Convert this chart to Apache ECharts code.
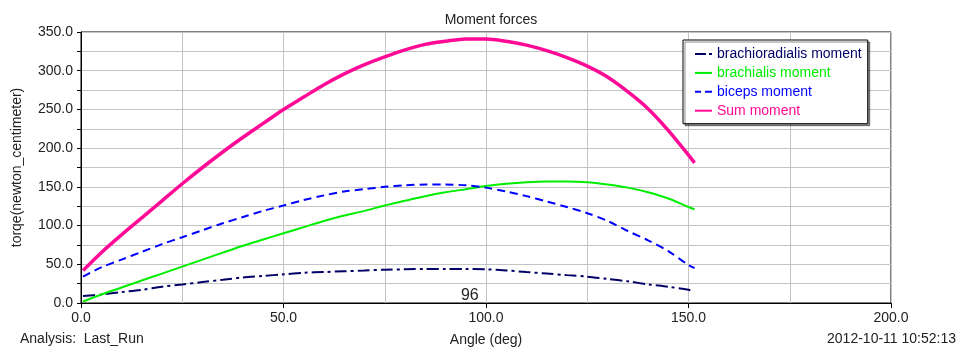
<!DOCTYPE html>
<html>
<head>
<meta charset="utf-8">
<script src="https://cdn.jsdelivr.net/npm/echarts@6/dist/echarts.min.js"></script>
<style>
html,body{margin:0;padding:0;background:#fff;}
#c{width:959px;height:349px;}
</style>
</head>
<body>
<div id="c"></div>
<script>
var angles = [0.5,5,10,15,20,25,30,35,40,45,50,55,60,65,70,75,80,85,90,95,100,105,110,115,120,125,130,135,140,145,150,151.5];
var brachioradialis = [9,11,14,17,21,24,27,30,33,35,37,39,40,41,42,43,43.5,44,44,44,43.5,42,40,38,36,34,31,28,24,21,17,15];
var brachialis = [2,11,20,29,38,47,56,65,74,82,90,98,106,113,119,126,132,138,143,147,151,154,156,157,157,156,153,149,143,135,124,121];
var biceps = [34,46,56,66,76,85,94,103,111,119,126,133,139,144,147,150,152,153,153,152,149,144,138,131,124,116,106,93,81,67,49,45];
var sumMoment = [42,65,88,110,132,154,175,195,214,232,250,266,282,296,308,318,327,334,338,341,341,338,333,326,317,306,292,273,251,223,191,181];
var seriesNames = ['brachioradialis moment','brachialis moment','biceps moment','Sum moment'];
var xTicks = [0,50,100,150,200];
var yTicks = [0,50,100,150,200,250,300,350];
var markerLabel = '96';

function pairs(vals){ return angles.map(function(a,i){ return [a, vals[i]]; }); }

var colors = ['#000066','#00ee00','#0000ff','#ff0a96'];
var icons = [
  'path://M0,0h11v2h-11z M14,0h3v2h-3z',
  'path://M0,0h17v2h-17z',
  'path://M0,0h6v2h-6z M10,0h7v2h-7z',
  'path://M0,0h17v2h-17z'
];
var font = 'Liberation Sans, Arial, sans-serif';

var chart = echarts.init(document.getElementById('c'), null, {renderer:'canvas'});
chart.setOption({
  animation:false,
  backgroundColor:'#fff',
  title:{text:'Moment forces', left:486, top:8, textAlign:'center',
    textStyle:{fontFamily:font, fontSize:14, fontWeight:'normal', color:'#222'}},
  legend:{
    orient:'vertical', left:683, top:40,
    padding:[7,6,6,12], itemGap:4.9, itemWidth:17, itemHeight:14,
    backgroundColor:'#fff', borderColor:'#000', borderWidth:1,
    shadowColor:'rgba(0,0,0,0.45)', shadowOffsetX:2, shadowOffsetY:2, shadowBlur:0,
    textStyle:{fontFamily:font, fontSize:14, padding:[0,0,0,0]},
    data:seriesNames.map(function(n,i){ return {name:n, icon:icons[i], textStyle:{color:colors[i]}}; })
  },
  grid:{left:81, right:68, top:32, bottom:46, show:true, borderColor:'#000', borderWidth:1, containLabel:false},
  xAxis:{
    type:'value', min:0, max:200, interval:50,
    axisLine:{show:true, lineStyle:{color:'#000', width:1}},
    axisTick:{show:true, length:5, lineStyle:{color:'#000'}},
    minorTick:{show:false, splitNumber:2},
    splitLine:{show:true, lineStyle:{color:'#c4c4c4', width:1}},
    minorSplitLine:{show:true, lineStyle:{color:'#c4c4c4', width:1}},
    axisLabel:{margin:8, fontFamily:font, fontSize:14, color:'#222',
      formatter:function(v){ return xTicks.indexOf(v)>=0 ? v.toFixed(1) : ''; }}
  },
  yAxis:{
    type:'value', min:0, max:350, interval:50,
    name:'torqe(newton_centimeter)', nameLocation:'middle', nameGap:57,
    nameTextStyle:{fontFamily:font, fontSize:14, color:'#222'},
    axisLine:{show:true, lineStyle:{color:'#000', width:1}},
    axisTick:{show:true, length:4, lineStyle:{color:'#000'}},
    minorTick:{show:true, splitNumber:2, length:4, lineStyle:{color:'#000'}},
    splitLine:{show:true, lineStyle:{color:'#c4c4c4', width:1}},
    minorSplitLine:{show:true, lineStyle:{color:'#c4c4c4', width:1}},
    axisLabel:{margin:8, fontFamily:font, fontSize:14, color:'#222',
      formatter:function(v){ return yTicks.indexOf(v)>=0 ? v.toFixed(1) : ''; }}
  },
  series:[
    {name:seriesNames[0], type:'line', data:pairs(brachioradialis), showSymbol:false, symbol:'none', smooth:0.3,
      lineStyle:{color:colors[0], width:2, type:[12,4,3,4]}, itemStyle:{color:colors[0]}},
    {name:seriesNames[1], type:'line', data:pairs(brachialis), showSymbol:false, symbol:'none', smooth:0.3,
      lineStyle:{color:colors[1], width:2, type:'solid'}, itemStyle:{color:colors[1]}},
    {name:seriesNames[2], type:'line', data:pairs(biceps), showSymbol:false, symbol:'none', smooth:0.3,
      lineStyle:{color:colors[2], width:2, type:[8,5]}, itemStyle:{color:colors[2]}},
    {name:seriesNames[3], type:'line', data:pairs(sumMoment), showSymbol:false, symbol:'none', smooth:0.3,
      lineStyle:{color:colors[3], width:3.5, type:'solid'}, itemStyle:{color:colors[3]}}
  ],
  graphic:[
    {type:'text', left:20, top:332, style:{text:'Analysis:  Last_Run', fontSize:14, fontFamily:font, fill:'#222'}},
    {type:'text', x:486, y:340, style:{text:'Angle (deg)', fontSize:14, fontFamily:font, fill:'#222', align:'center', verticalAlign:'middle'}},
    {type:'text', right:3, top:332, style:{text:'2012-10-11 10:52:13', fontSize:14, fontFamily:font, fill:'#222'}}
  ]
});

// "96" annotation placed via the axis scale
var p = chart.convertToPixel({gridIndex:0}, [96, 10]);
chart.setOption({graphic:[{},{},{},
  {type:'text', x:p[0], y:p[1], style:{text:markerLabel, fontSize:16, fontFamily:font, fill:'#222', align:'center', verticalAlign:'middle'}}
]});
</script>
</body>
</html>
